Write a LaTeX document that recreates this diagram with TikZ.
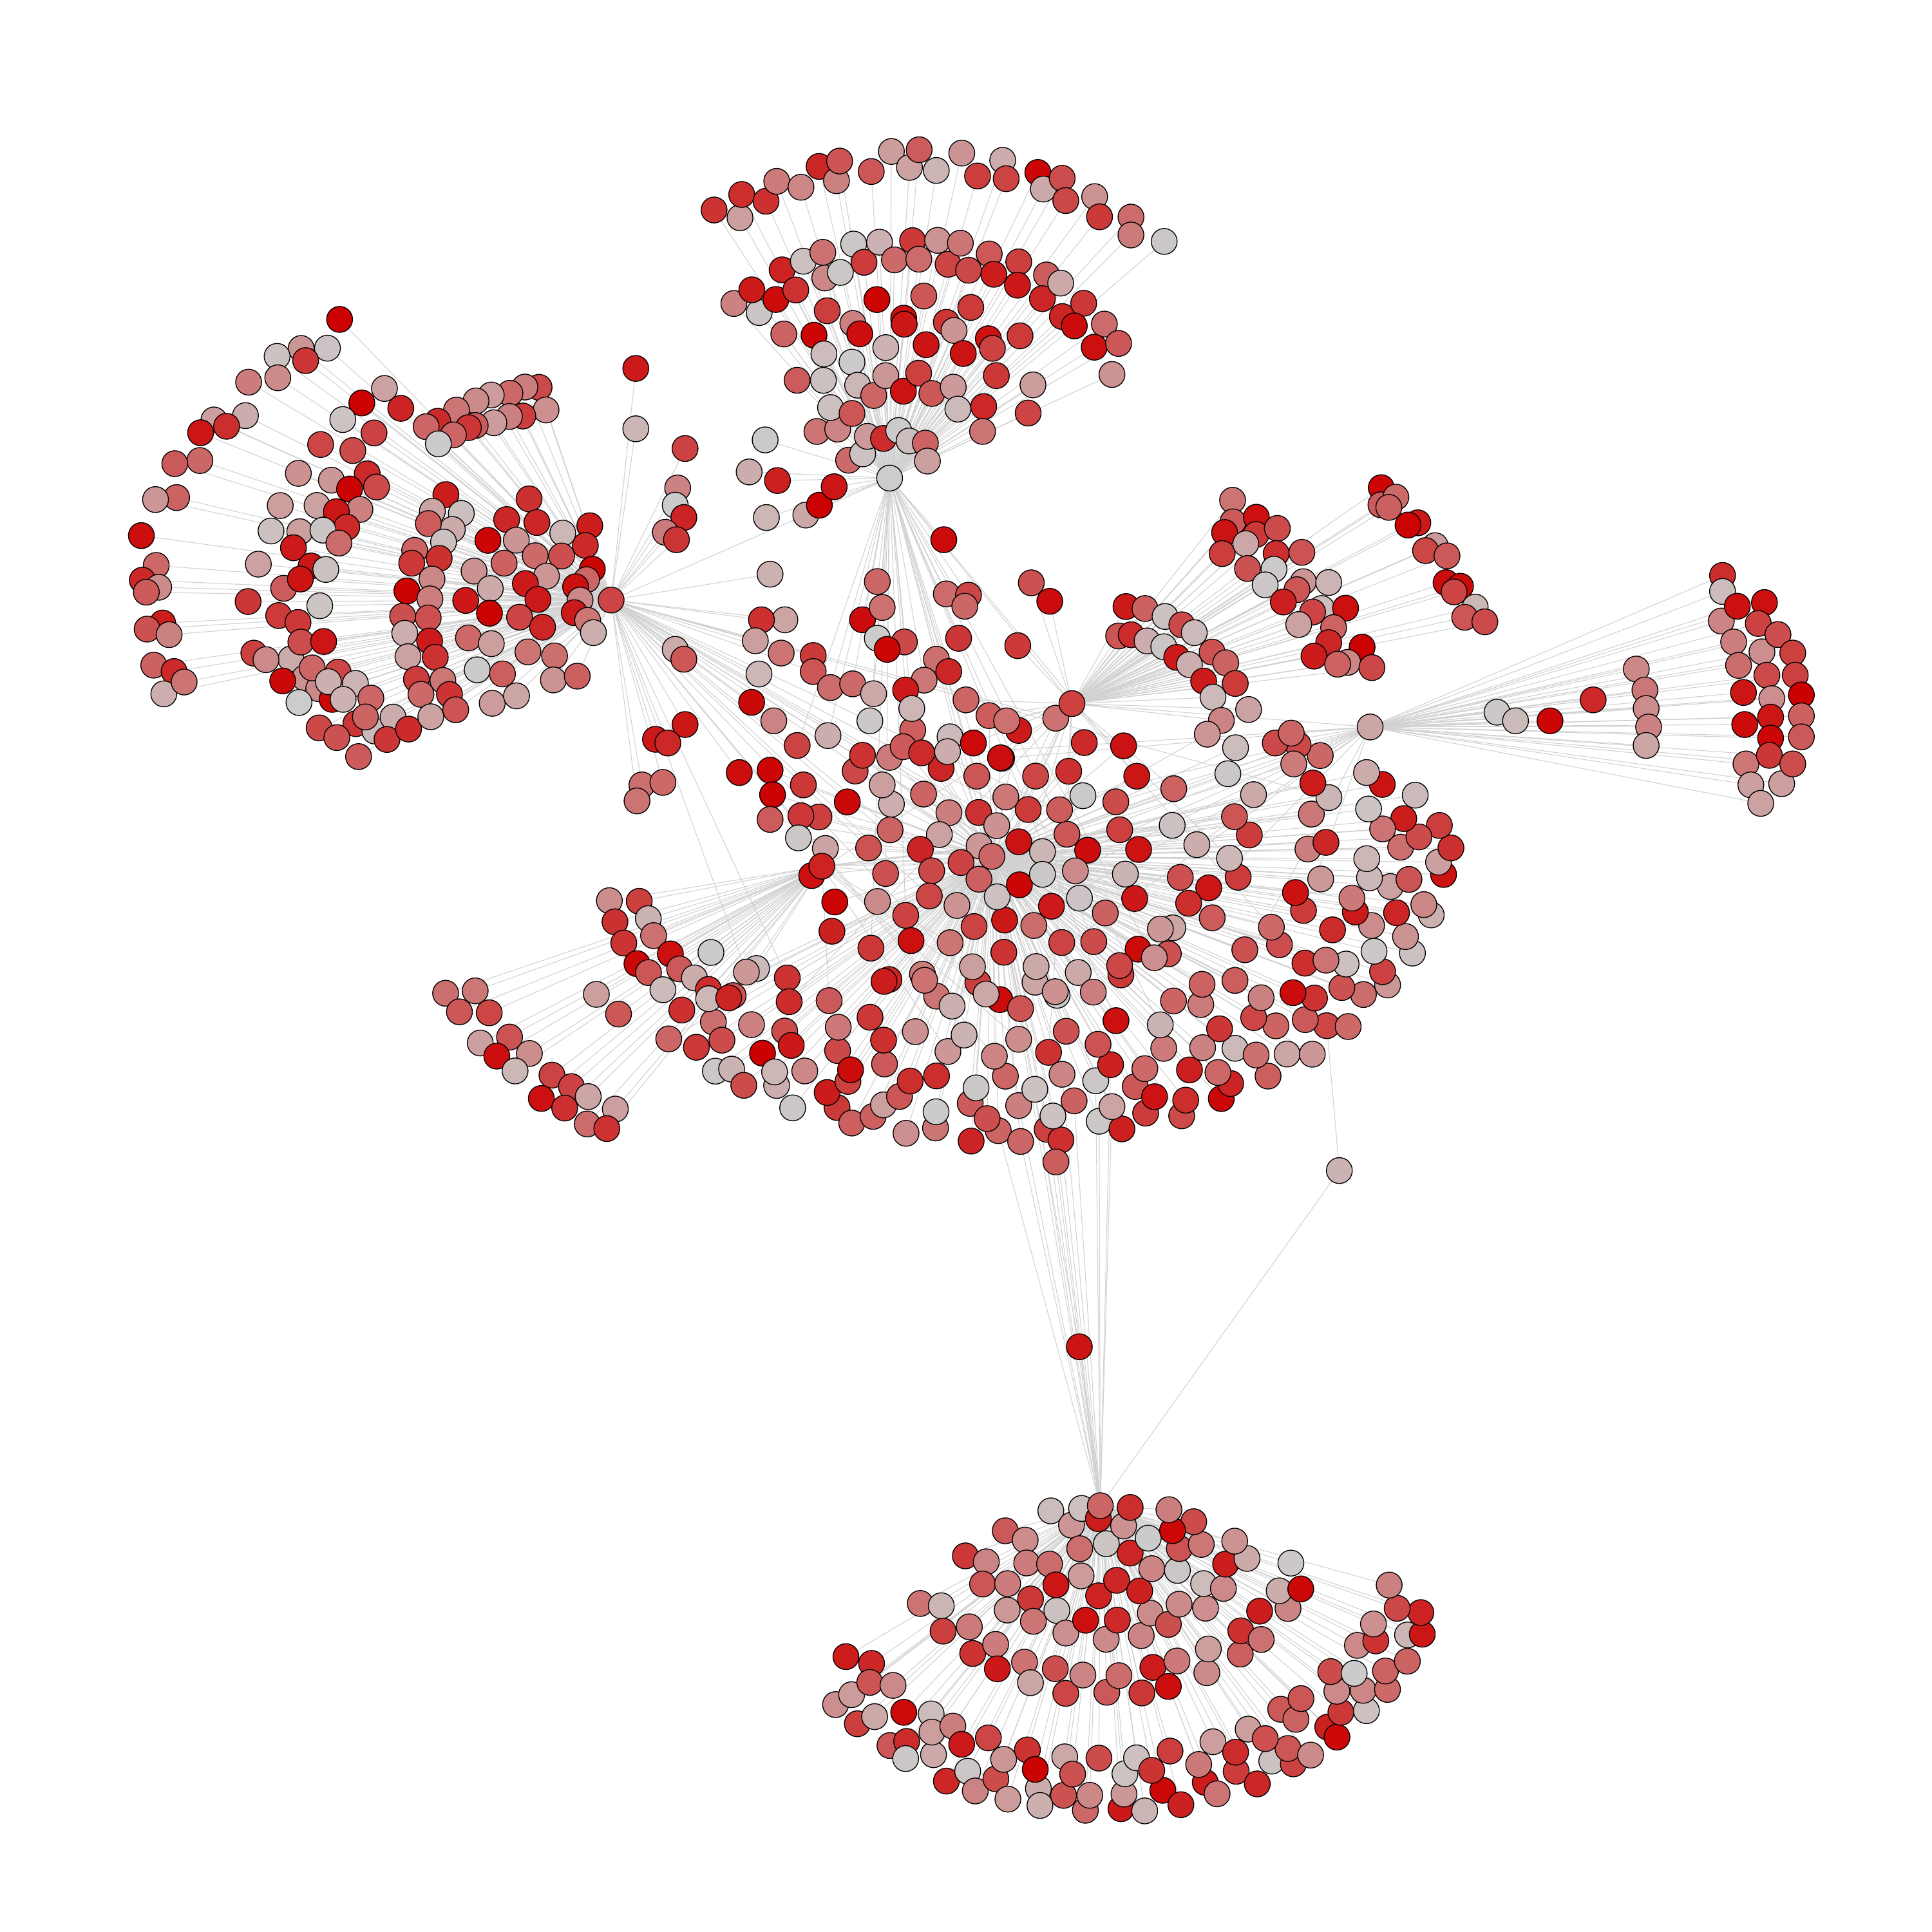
\documentclass[tikz,border=0pt]{standalone}
\pgfdeclarelayer{back}
\pgfdeclarelayer{bg}
\pgfsetlayers{back,bg,main}
\tikzset{
  nd/.style={circle, draw=black, line width=0.2pt, minimum size=0.21cm, inner sep=0pt},
  edge/.style={draw=black!18, line width=0.16pt}
}
\gdef\edgelist{C0/T}
\newcommand\addedge[2]{\xdef\edgelist{\edgelist,#1/#2}}
% #1 hub, #2 prefix, #3 extra-edge range (-1 none), #4 list
\newcommand\myfans[4]{%
 \foreach \cx/\cy/\rxa/\rya/\rxb/\ryb/\angA/\angB/\nn/\zz [count=\kk] in {#4}{%
  \foreach \ii in {1,...,\nn}{%
   \pgfmathsetmacro\tpar{(\ii-0.5)/\nn}%
   \pgfmathsetmacro\ang{\angA+(\angB-\angA)*\tpar+1.5*rand}%
   \pgfmathsetmacro\zf{\zz*(2*mod(\ii,2)-1)+2*rand}%
   \pgfmathsetmacro\px{\cx+(\rxa+(\rxb-\rxa)*\tpar+\zf)*cos(\ang)}%
   \pgfmathsetmacro\py{\cy-(\rya+(\ryb-\rya)*\tpar+\zf)*sin(\ang)}%
   \pgfmathrandominteger{\vv}{0}{204}%
   \definecolor{nc}{RGB}{204,\vv,\vv}%
   \node[nd,fill=nc] (#2-\kk-\ii) at (\px,\py) {};%
   \addedge{#1}{#2-\kk-\ii}%
   \ifnum#3>0
    \pgfmathrandominteger{\ee}{0}{#3}%
    \ifcase\ee\relax \addedge{T}{#2-\kk-\ii}%
    \or \addedge{H3}{#2-\kk-\ii}%
    \or \addedge{L}{#2-\kk-\ii}%
    \or \addedge{R}{#2-\kk-\ii}%
    \or \addedge{C2}{#2-\kk-\ii}%
    \else\fi
   \fi
  }%
 }%
}
% #1 prefix, #2 list x/y/hub
\newcommand\mypts[2]{%
 \foreach \px/\py/\hh [count=\kk] in {#2}{%
   \pgfmathrandominteger{\vv}{0}{204}%
   \definecolor{nc}{RGB}{204,\vv,\vv}%
   \node[nd,fill=nc] (#1-\kk) at (\px,\py) {};%
   \addedge{\hh}{#1-\kk}%
 }%
}
\begin{document}
\begin{tikzpicture}[x=0.01cm,y=-0.01cm]
\pgfmathsetseed{4242}
\begin{pgfonlayer}{back}\fill[white] (0,0) rectangle (1568,1568);\end{pgfonlayer}
\useasboundingbox (0,0) rectangle (1568,1568);
% hub positions
\coordinate (T) at (722,388);
\coordinate (L) at (496,487);
\coordinate (H3) at (870,571);
\coordinate (R) at (1112,590);
\coordinate (C2) at (667,703);
\coordinate (C0) at (805,695);
\coordinate (B) at (893,1222);
\addedge{C0}{H3}\addedge{C0}{C2}\addedge{C0}{R}\addedge{C0}{L}\addedge{B}{C0}
\addedge{T}{L}\addedge{H3}{R}\addedge{T}{H3}
% top cluster
\myfans{T}{t}{-1}{722/388/268/245/296/275/122/42/27/7,
 722/388/188/175/213/200/131/26/34/9,
 722/388/140/135/150/145/128/45/11/8,
 722/388/100/100/135/135/138/22/14/8,
 722/388/62/62/92/92/152/22/14/7,
 722/388/32/32/40/40/165/15/8/4}
% left cluster
\myfans{L}{l}{-1}{496/487/307/307/375/375/134/170/15/7,
 496/487/378/378/361/361/172/193/12/7,
 496/487/240/240/285/285/135/184/18/12,
 496/487/285/285/225/225/186/212/13/12,
 496/487/215/215/250/250/150/184/13/8,
 496/487/250/250/200/200/186/214/12/8,
 496/487/170/170/200/200/107/140/16/10,
 496/487/150/150/165/165/145/218/24/10,
 496/487/95/95/120/120/125/230/16/10,
 496/487/55/55/75/75/100/250/14/8,
 496/487/28/28/28/28/110/250/7/3}
% upper right cluster
\myfans{H3}{u}{-1}{870/571/300/300/337/337/37/9/15/5,
 870/571/200/200/240/240/54/4/15/8,
 870/571/178/178/212/212/50/6/13/8,
 870/571/75/75/135/135/62/-8/18/12}
% lower left fan
\myfans{C2}{c}{-1}{667/703/315/315/265/265/198/232/17/10,
 667/703/165/165/150/150/188/222/12/12}
\mypts{cx}{484/807/C2, 502/823/C2, 577/773/C2, 614/786/C2, 595/808/C2, 575/803/C2}
% center big arcs
\myfans{C0}{E}{-1}{810/660/365/262/365/262/-138/0/40/5,
 810/660/336/241/336/241/-140/6/37/5,
 810/660/307/220/307/220/-142/12/34/5}
\myfans{C0}{F}{9}{810/660/263/189/263/189/-140/20/34/7,
 810/660/200/144/200/144/-120/30/22/7,
 815/700/150/115/150/115/0/360/32/6,
 815/700/105/80/105/80/0/360/26/6,
 815/700/65/50/65/50/0/360/18/5,
 815/700/30/25/30/25/0/360/9/4}
% scattered center nodes
\mypts{s}{516/299/L, 516/348/L, 556/364/L, 550/396/L, 548/410/L, 555/420/L, 540/432/L, 549/438/L,
 625/466/L, 637/503/L, 618/503/L, 613/520/L, 634/530/L, 660/532/L, 548/527/L, 555/535/L,
 610/570/L, 628/585/L, 556/588/L, 532/600/L, 542/603/L, 600/627/L, 521/637/L, 538/635/L,
 517/650/L, 616/547/L, 660/545/L,
 608/383/T, 621/357/T, 631/390/T, 654/418/T, 665/410/T, 677/395/T, 622/420/T, 766/438/T,
 712/472/T, 700/503/T, 716/493/T, 712/518/T, 734/521/T, 768/482/T, 786/483/T, 783/492/T,
 778/518/T, 760/535/T, 770/545/T, 750/552/T, 735/560/T, 720/527/T, 674/558/T, 692/555/T,
 709/563/T, 647/605/T, 672/597/T, 740/575/T, 706/585/T,
 826/524/H3, 837/473/H3, 852/488/H3, 784/568/H3, 817/585/H3, 790/603/H3, 812/615/H3,
 625/625/C0, 627/645/C0, 652/637/C0, 625/665/C0, 650/662/C0, 648/680/C0, 716/637/C0,
 733/606/C0, 748/611/C0, 769/610/C0, 700/613/C0}
% right cluster
\mypts{r}{1215/578/R, 1230/585/R, 1258/585/R, 1293/568/R, 1328/543/R, 1335/560/R, 1336/575/R,
 1338/590/R, 1336/605/R,
 1398/467/R, 1398/480/R, 1397/504/R, 1407/521/R, 1411/540/R, 1415/562/R, 1416/588/R,
 1417/620/R, 1421/637/R, 1429/652/R,
 1410/492/R, 1432/489/R, 1427/506/R, 1430/529/R, 1434/548/R, 1438/567/R, 1437/582/R,
 1437/599/R, 1436/613/R, 1446/636/R, 1455/620/R,
 1443/515/R, 1455/530/R, 1457/548/R, 1462/564/R, 1462/581/R, 1462/598/R,
 1035/603/R, 1048/595/R, 1050/620/R}
% bottom cluster
\myfans{B}{b}{-1}{897/1222/280/242/280/242/-142/-20/42/6,
 897/1222/250/212/250/212/-146/-18/36/6,
 897/1222/170/145/170/145/-150/-18/28/8,
 897/1222/118/100/118/100/-160/-15/22/7,
 897/1222/80/66/80/66/-168/-8/14/6,
 907/1222/48/36/48/36/-185/5/8/5,
 900/1222/20/14/20/14/-200/20/4/3}
% isolated connectors
\mypts{i}{857/943/B, 876/1093/B, 1087/950/B}
\addedge{C0}{i-1}\addedge{C0}{i-2}\addedge{E-1-28}{i-3}
\foreach \j in {14,15,16,17,18} {\addedge{B}{E-1-\j}}
\foreach \j in {14,15,16,17} {\addedge{B}{E-2-\j}}
\foreach \j in {13,14,15,16} {\addedge{B}{E-3-\j}}
% all connectors, under the nodes
\begin{pgfonlayer}{bg}
\foreach \ea/\eb in \edgelist {\draw[edge] (\ea) -- (\eb);}
\end{pgfonlayer}
% hub nodes on top
\definecolor{hT}{RGB}{204,204,204}
\definecolor{hL}{RGB}{204,68,68}
\definecolor{hH}{RGB}{204,64,64}
\definecolor{hR}{RGB}{204,165,165}
\definecolor{hC}{RGB}{204,34,34}
\definecolor{hO}{RGB}{204,102,102}
\node[nd,fill=hT] (Tn) at (T) {};
\node[nd,fill=hL] (Ln) at (L) {};
\node[nd,fill=hH] (H3n) at (H3) {};
\node[nd,fill=hR] (Rn) at (R) {};
\node[nd,fill=hC] (C2n) at (C2) {};
\node[nd,fill=hO] (C0n) at (C0) {};
\node[nd,fill=hO] (Bn) at (B) {};
\end{tikzpicture}
\end{document}
